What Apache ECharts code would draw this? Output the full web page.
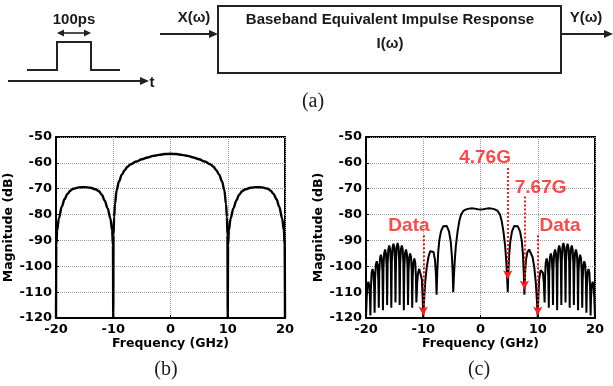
<!DOCTYPE html>
<html>
<head>
<meta charset="utf-8">
<script src="https://cdn.jsdelivr.net/npm/echarts@6/dist/echarts.min.js"></script>
<style>html,body{margin:0;padding:0;background:#fff}#c{width:613px;height:386px}</style>
</head>
<body>
<div id="c"></div>
<script>
// ---- Chart (b): single 100 ps pulse spectrum ----
var freqB = [-20,-19.95,-19.8,-19.5,-19,-18.5,-18,-17.5,-17,-16,-15,-14,-13,-12.5,-12,-11.5,-11,-10.5,-10.2,-10.05,-10,-9.95,-9.85,-9.7,-9.4,-9,-8.5,-8,-7.5,-7,-6,-5,-4,-3,-2,-1,0,1,2,3,4,5,6,7,7.5,8,8.5,9,9.4,9.7,9.85,9.95,10,10.05,10.2,10.5,11,11.5,12,12.5,13,14,15,16,17,17.5,18,18.5,19,19.5,19.8,19.95,20];
var magB = [-120,-92,-86,-81.5,-77,-74,-72,-70.8,-70,-69.5,-69.4,-69.6,-70.3,-71,-72.3,-74.5,-77.5,-81.5,-86,-92,-120,-88,-81,-76,-70.5,-67.2,-64.6,-62.8,-61.5,-60.6,-59.5,-58.6,-57.9,-57.3,-56.9,-56.6,-56.5,-56.6,-56.9,-57.3,-57.9,-58.6,-59.5,-60.6,-61.5,-62.8,-64.6,-67.2,-70.5,-76,-81,-88,-120,-92,-86,-81.5,-77.5,-74.5,-72.3,-71,-70.3,-69.6,-69.4,-69.5,-70,-70.8,-72,-74,-77,-81.5,-86,-92,-120];

// ---- Chart (c): data pattern spectrum ----
var freqCLeft = [-20,-19.87,-19.75,-19.59,-19.43,-19.31,-19.23,
 -19.14,-19.02,-18.86,-18.7,-18.58,-18.5,
 -18.41,-18.29,-18.13,-17.97,-17.85,-17.77,
 -17.68,-17.56,-17.4,-17.24,-17.12,-17.04,
 -16.95,-16.83,-16.67,-16.51,-16.39,-16.31,
 -16.22,-16.1,-15.94,-15.78,-15.66,-15.58,
 -15.49,-15.37,-15.21,-15.05,-14.93,-14.85,
 -14.76,-14.64,-14.48,-14.32,-14.2,-14.12,
 -14.03,-13.91,-13.75,-13.59,-13.47,-13.39,
 -13.3,-13.18,-13.02,-12.86,-12.74,-12.66,
 -12.57,-12.45,-12.29,-12.13,-12.01,-11.93,
 -11.84,-11.72,-11.56,-11.4,-11.28,-11.2,
 -11.05,-10.9,-10.7,-10.5,-10.25,-10.1,-10.0,-9.85,-9.65,-9.4,-9.1,-8.8,-8.5,-8.2,-7.95,-7.78,-7.67,-7.55,-7.4,-7.2,-6.9,-6.5,-6.2,-5.9,-5.5,-5.2,-5.0,-4.85,-4.76,-4.65,-4.5,-4.3,-4.0,-3.7,-3.4,-3.0,-2.5,-2.0,-1.5,-1.0,-0.5];
var magCLeft = [-120,-112,-107.5,-106,-107.5,-112,
 -119,-108,-102.5,-101,-102.5,-108,
 -118,-105,-99.5,-98,-99.5,-105,
 -116,-102.5,-97,-95.5,-97,-102.5,
 -117,-100.5,-95,-93.5,-95,-100.5,
 -115,-99,-93.5,-92,-93.5,-99,
 -116,-98.3,-92.8,-91.3,-92.8,-98.3,
 -114,-98,-92.5,-91,-92.5,-98,
 -115,-99,-93.5,-92,-93.5,-99,
 -117,-100.5,-95,-93.5,-95,-100.5,
 -115,-102,-96.5,-95,-96.5,-102,
 -116,-104,-98.5,-97,-98.5,-104,
 -114,-106,-102.5,-101,-101.5,-105,-112,-120,-113,-106,-100.5,-96.5,-94.2,-93.5,-94.5,-97.5,-103,-111,-102,-95,-90,-86.5,-84.5,-84.0,-84.4,-86.5,-90.5,-96,-103,-110,-104,-98,-92,-86.5,-82.5,-80.0,-78.6,-78.0,-77.7,-77.6,-77.7,-77.9];
var freqCRight = [0,0.5,1.0,1.5,2.0,2.5,3.0,3.4,3.7,4.0,4.3,4.5,4.65,4.76,4.85,5.0,5.2,5.5,5.9,6.2,6.5,6.9,7.2,7.4,7.55,7.67,7.78,7.95,8.2,8.5,8.8,9.1,9.4,9.65,9.85,10.0,10.1,10.25,10.5,10.7,10.9,11.05,11.2,
 11.28,11.4,11.56,11.72,11.84,11.93,
 12.01,12.13,12.29,12.45,12.57,12.66,
 12.74,12.86,13.02,13.18,13.3,13.39,
 13.47,13.59,13.75,13.91,14.03,14.12,
 14.2,14.32,14.48,14.64,14.76,14.85,
 14.93,15.05,15.21,15.37,15.49,15.58,
 15.66,15.78,15.94,16.1,16.22,16.31,
 16.39,16.51,16.67,16.83,16.95,17.04,
 17.12,17.24,17.4,17.56,17.68,17.77,
 17.85,17.97,18.13,18.29,18.41,18.5,
 18.58,18.7,18.86,19.02,19.14,19.23,
 19.31,19.43,19.59,19.75,19.87,20];
var magCRight = [-78.0,-77.9,-77.7,-77.6,-77.7,-78.0,-78.6,-80.0,-82.5,-86.5,-92,-98,-104,-110,-103,-96,-90.5,-86.5,-84.4,-84.0,-84.5,-86.5,-90,-95,-102,-111,-103,-97.5,-94.5,-93.5,-94.2,-96.5,-100.5,-106,-113,-120,-112,-105,-101.5,-101,-102.5,-106,-114,
 -104,-98.5,-97,-98.5,-104,-116,
 -102,-96.5,-95,-96.5,-102,-115,
 -100.5,-95,-93.5,-95,-100.5,-117,
 -99,-93.5,-92,-93.5,-99,-115,
 -98,-92.5,-91,-92.5,-98,-114,
 -98.3,-92.8,-91.3,-92.8,-98.3,-116,
 -99,-93.5,-92,-93.5,-99,-115,
 -100.5,-95,-93.5,-95,-100.5,-117,
 -102.5,-97,-95.5,-97,-102.5,-116,
 -105,-99.5,-98,-99.5,-105,-118,
 -108,-102.5,-101,-102.5,-108,-119,
 -112,-107.5,-106,-107.5,-112,-120];

// annotation arrows (x, yStart, yEnd) and labels
var arrowX = [4.76, 7.67, -10, 10];
var arrowFrom = [-62, -73, -88, -88];
var arrowTo = [-105, -109, -119, -119];
var labelText = ['4.76G', '7.67G', 'Data', 'Data'];
var labelX = [0.8, 10.5, -12.5, 13.9];
var labelY = [-58.2, -69.8, -84.3, -84.3];

// axes
var yTicks = [-50,-60,-70,-80,-90,-100,-110,-120];
var xTicks = [-20,-10,0,10,20];

function zip(a, b) { var r = []; for (var i = 0; i < a.length; i++) r.push([a[i], b[i]]); return r; }
var freqC = freqCLeft.concat(freqCRight);
var magC = magCLeft.concat(magCRight);

var TF = 'DejaVu Sans';
function xAx(idx) {
  return {
    type: 'value', gridIndex: idx, min: xTicks[0], max: xTicks[xTicks.length - 1], interval: 10,
    name: 'Frequency (GHz)', nameLocation: 'middle', nameGap: 18,
    nameTextStyle: { fontFamily: TF, fontWeight: 'bold', fontSize: 12.5, color: '#000' },
    axisLine: { show: true, onZero: false, lineStyle: { color: '#000', width: 2 } },
    axisTick: { show: true, inside: true, length: 3, lineStyle: { color: '#000' } },
    axisLabel: { fontFamily: TF, fontWeight: 'bold', fontSize: 13, color: '#000', margin: 5 },
    splitLine: { show: true, lineStyle: { color: '#9a9a9a', type: 'dotted', width: 1 } }
  };
}
function yAx(idx) {
  return {
    type: 'value', gridIndex: idx, min: yTicks[yTicks.length - 1], max: yTicks[0], interval: 10,
    name: 'Magnitude (dB)', nameLocation: 'middle', nameGap: 36, nameRotate: 90,
    nameTextStyle: { fontFamily: TF, fontWeight: 'bold', fontSize: 12.5, color: '#000' },
    axisLine: { show: true, onZero: false, lineStyle: { color: '#000', width: 2 } },
    axisTick: { show: true, inside: true, length: 3, lineStyle: { color: '#000' } },
    axisLabel: { fontFamily: TF, fontWeight: 'bold', fontSize: 13, color: '#000', margin: 4 },
    splitLine: { show: true, lineStyle: { color: '#9a9a9a', type: 'dotted', width: 1 } }
  };
}

var markData = [];
for (var i = 0; i < arrowX.length; i++) {
  markData.push([{ coord: [arrowX[i], arrowFrom[i]] }, { coord: [arrowX[i], arrowTo[i]] }]);
}
var labelData = [];
for (var j = 0; j < labelText.length; j++) labelData.push([labelX[j], labelY[j], labelText[j]]);

var LF = 'Liberation Sans';
var ink = '#222';
function txt(x, y, t, size, fam, weight) {
  return { type: 'text', silent: true, style: { x: x, y: y, text: t, fill: '#1a1a1a',
    font: (weight || 'bold') + ' ' + size + 'px "' + (fam || LF) + '"', align: 'center', verticalAlign: 'middle' } };
}
function pl(points, w) {
  return { type: 'polyline', silent: true, shape: { points: points }, style: { stroke: ink, lineWidth: w || 2, fill: null } };
}
function tri(points) {
  return { type: 'polygon', silent: true, shape: { points: points }, style: { fill: ink, stroke: null } };
}

var graphics = [
  // pulse
  pl([[27,70],[57,70],[57,42],[91,42],[91,70],[120,70]]),
  pl([[8,81],[142,81]]), tri([[149,81],[140,77],[140,85]]),
  txt(152, 83, 't', 15),
  txt(74, 20, '100ps', 15),
  pl([[62,33],[86,33]], 1.6), tri([[57,33],[64,29.5],[64,36.5]]), tri([[91,33],[84,29.5],[84,36.5]]),
  // block diagram
  pl([[160,34],[211,34]]), tri([[218,34],[209,30],[209,38]]),
  txt(194, 18, 'X(\u03c9)', 15),
  { type: 'rect', silent: true, shape: { x: 218, y: 6, width: 343, height: 67 }, style: { stroke: ink, lineWidth: 2, fill: null } },
  txt(390, 20, 'Baseband Equivalent Impulse Response', 15),
  txt(390, 44, 'I(\u03c9)', 15),
  pl([[561,34],[606,34]]), tri([[613,34],[604,30],[604,38]]),
  txt(586, 18, 'Y(\u03c9)', 15),
  // subfigure captions
  txt(313, 102, '(a)', 20, 'Liberation Serif', 'normal'),
  txt(166, 370, '(b)', 20, 'Liberation Serif', 'normal'),
  txt(479, 370, '(c)', 20, 'Liberation Serif', 'normal')
];

var chart = echarts.init(document.getElementById('c'), null, { renderer: 'canvas' });
chart.setOption({
  animation: false,
  backgroundColor: '#fff',
  grid: [
    { left: 56, top: 137, width: 229, height: 181, show: true, borderColor: '#000', borderWidth: 2, containLabel: false },
    { left: 366, top: 137, width: 229, height: 181, show: true, borderColor: '#000', borderWidth: 2, containLabel: false }
  ],
  xAxis: [xAx(0), xAx(1)],
  yAxis: [yAx(0), yAx(1)],
  graphic: graphics,
  series: [
    { type: 'line', xAxisIndex: 0, yAxisIndex: 0, data: zip(freqB, magB), showSymbol: false, silent: true,
      smooth: 0.35, smoothMonotone: 'x',
      lineStyle: { color: '#000', width: 2.4 }, clip: true },
    { type: 'line', xAxisIndex: 1, yAxisIndex: 1, data: zip(freqC, magC), showSymbol: false, silent: true,
      lineStyle: { color: '#000', width: 2 }, clip: true,
      markLine: { silent: true, symbol: ['none', 'arrow'], symbolSize: [7, 9], animation: false,
        label: { show: false },
        lineStyle: { color: '#ff1a1a', type: 'dotted', width: 2 },
        data: markData } },
    { type: 'scatter', xAxisIndex: 1, yAxisIndex: 1, data: labelData, symbolSize: 0, silent: true,
      itemStyle: { color: 'rgba(0,0,0,0)' },
      label: { show: true, position: 'inside', formatter: function (p) { return p.data[2]; },
        color: '#ff1a1a', fontFamily: LF, fontWeight: 'bold', fontSize: 19 } }
  ]
});
</script>
</body>
</html>
